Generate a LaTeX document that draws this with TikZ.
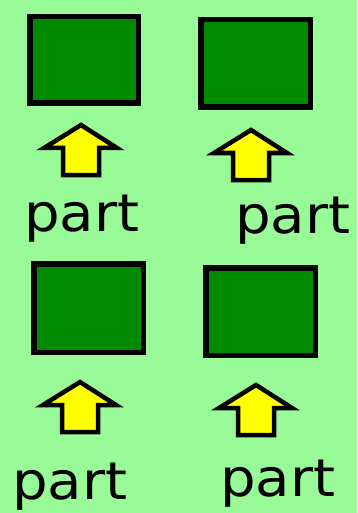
\documentclass[tikz,border=0pt]{standalone}
\usepackage{fontspec}
\setmainfont{DejaVu Sans}
\definecolor{bggreen}{RGB}{152,251,152}
\definecolor{boxgreen}{RGB}{0,138,0}
\definecolor{arrowyellow}{RGB}{255,255,0}
\tikzset{
  partbox/.style={draw=black, fill=boxgreen, line width=5.5pt, inner sep=0pt, minimum width=#1},
  partbox/.default=110pt,
  uparrow/.style={draw=black, fill=arrowyellow, line width=4.5pt, miter limit=10},
  partlabel/.style={anchor=base west, inner sep=0pt, font=\fontsize{52}{52}\selectfont, xscale=1.08, transform shape}
}
\newcommand{\uparr}[3]{% name, x, y of tip
  \draw[uparrow] (#2,#3+4) -- (#2+36,#3+27) -- (#2+18,#3+27) -- (#2+18,#3+54) -- (#2-18,#3+54) -- (#2-18,#3+27) -- (#2-37,#3+27) -- cycle;
  \coordinate (#1) at (#2,#3);
}
\begin{document}
\begin{tikzpicture}[x=1pt, y=-1pt]
\useasboundingbox (0,0) rectangle (357,513);
\fill[bggreen] (0,0) rectangle (357,513);
% boxes
\node[partbox=108.5pt, minimum height=86.5pt] (box1) at (84,60) {};
\node[partbox=109.5pt, minimum height=87.5pt] (box2) at (255.5,63.5) {};
\node[partbox=109.5pt, minimum height=88.5pt] (box3) at (88.5,308) {};
\node[partbox=109.5pt, minimum height=87.5pt] (box4) at (260.5,311.5) {};
% arrows
\uparr{arr1}{81}{121}
\uparr{arr2}{251}{126}
\uparr{arr3}{80}{378}
\uparr{arr4}{256}{381}
% labels
\node[partlabel] (lab1) at (24,231) {part};
\node[partlabel] (lab2) at (235,233) {part};
\node[partlabel] (lab3) at (12,499) {part};
\node[partlabel] (lab4) at (220,496) {part};
\end{tikzpicture}
\end{document}
